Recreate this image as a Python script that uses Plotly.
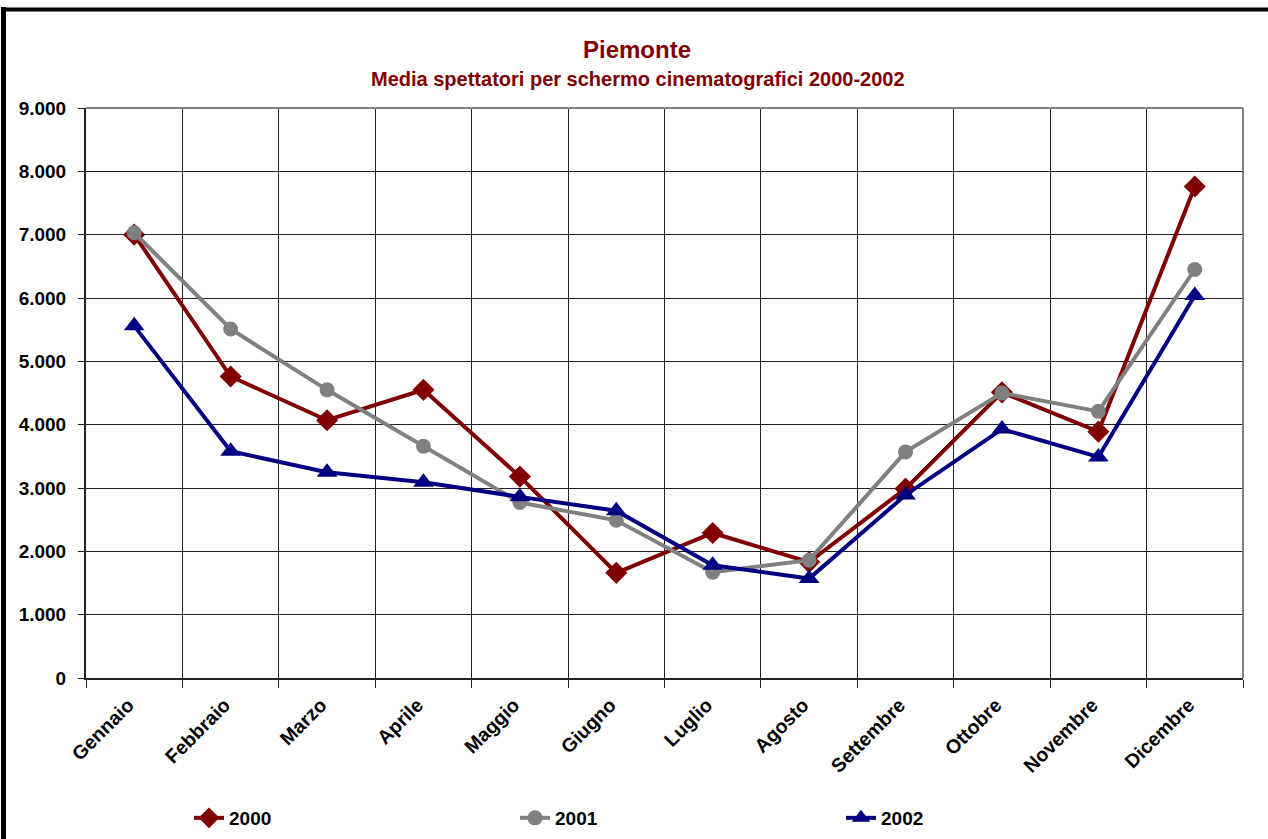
import plotly.graph_objects as go

mesi = ["Gennaio", "Febbraio", "Marzo", "Aprile", "Maggio", "Giugno", "Luglio",
        "Agosto", "Settembre", "Ottobre", "Novembre", "Dicembre"]
v2000 = [7000, 4760, 4070, 4550, 3180, 1660, 2290, 1830, 2990, 4510, 3890, 7760]
v2001 = [7030, 5510, 4550, 3660, 2770, 2490, 1670, 1860, 3570, 4500, 4210, 6450]
v2002 = [5560, 3580, 3250, 3090, 2860, 2640, 1780, 1570, 2890, 3930, 3490, 6040]
y_ticks = [0, 1000, 2000, 3000, 4000, 5000, 6000, 7000, 8000, 9000]

W, H = 1268, 839
L, R, T, B = 86, 1243, 108, 678
pw, ph = R - L, B - T

def px(x):
    return (x - L) / pw

def py(y):
    return (B - y) / ph

fig = go.Figure()
fig.add_trace(go.Scatter(x=mesi, y=v2000, name="2000", mode="lines+markers",
                         line=dict(color="#800000", width=4),
                         marker=dict(symbol="diamond", size=17, color="#800000")))
fig.add_trace(go.Scatter(x=mesi, y=v2001, name="2001", mode="lines+markers",
                         line=dict(color="#808080", width=4),
                         marker=dict(symbol="circle", size=15, color="#808080")))
fig.add_trace(go.Scatter(x=mesi, y=v2002, name="2002", mode="lines+markers",
                         line=dict(color="#000080", width=4),
                         marker=dict(symbol="triangle-up", size=18, color="#000080")))

font = "Liberation Sans, Arial, sans-serif"
fig.update_layout(
    width=W, height=H,
    margin=dict(l=L, r=W - R, t=T, b=H - B, autoexpand=False),
    paper_bgcolor="white", plot_bgcolor="white",
    separators=",.",
    font=dict(family=font, size=19, color="black"),
    xaxis=dict(type="category", tickson="boundaries", ticks="outside", ticklen=8,
               tickcolor="#222", showgrid=True, gridcolor="#222", gridwidth=1,
               tickangle=-45, ticklabelshift=-6, ticklabelstandoff=6,
               tickfont=dict(family=font, size=19.5, color="black", weight="bold"),
               showline=True, linecolor="#222", linewidth=2, range=[-0.5, 11.5]),
    yaxis=dict(range=[0, 9000], tickvals=y_ticks, tickformat=",d", ticks="outside",
               ticklen=6, tickcolor="#222", showgrid=True, gridcolor="#222", gridwidth=1,
               ticklabelstandoff=8,
               tickfont=dict(family=font, size=19, color="black", weight="bold"),
               showline=True, linecolor="#222", linewidth=2, zeroline=False),
    legend=dict(orientation="h", x=px(189), xanchor="left", y=py(818), yanchor="middle",
                entrywidth=281, entrywidthmode="pixels",
                font=dict(family=font, size=19, color="black", weight="bold"),
                bgcolor="rgba(0,0,0,0)"),
    showlegend=True,
    annotations=[
        dict(text="<b>Piemonte</b>", xref="paper", yref="paper", x=px(637), y=py(50),
             xanchor="center", yanchor="middle", showarrow=False,
             font=dict(family=font, size=24, color="#800000")),
        dict(text="<b>Media spettatori per schermo cinematografici 2000-2002</b>",
             xref="paper", yref="paper", x=px(638), y=py(79),
             xanchor="center", yanchor="middle", showarrow=False,
             font=dict(family=font, size=20, color="#800000")),
    ],
    shapes=[
        dict(type="line", xref="paper", yref="paper", x0=0, x1=1, y0=1, y1=1,
             line=dict(color="#808080", width=2)),
        dict(type="line", xref="paper", yref="paper", x0=1, x1=1, y0=0, y1=1,
             line=dict(color="#808080", width=2)),
        dict(type="line", xref="paper", yref="paper", x0=px(3.5), x1=px(3.5), y0=py(7), y1=py(845),
             line=dict(color="black", width=5)),
        dict(type="line", xref="paper", yref="paper", x0=px(1), x1=px(1275), y0=py(9.5), y1=py(9.5),
             line=dict(color="black", width=4)),
    ],
)

fig.write_html("out.html", config={"displayModeBar": False},
               post_script="document.body.style.margin='0';")
